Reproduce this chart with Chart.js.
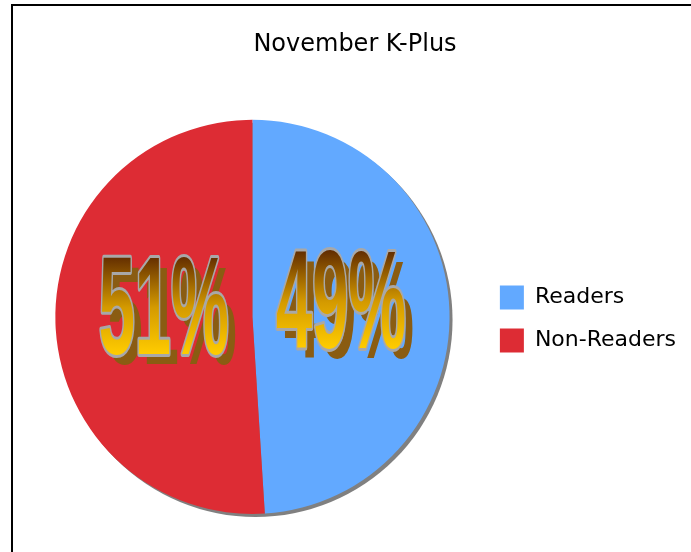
<!DOCTYPE html>
<html>
<head>
<meta charset="utf-8">
<script src="https://cdn.jsdelivr.net/npm/chart.js@4.4.0/dist/chart.umd.min.js"></script>
<style>
html, body { margin: 0; padding: 0; background: #fff; overflow: hidden; }
#wrap { width: 720px; height: 552px; }
</style>
</head>
<body>
<div id="wrap"><canvas id="pie-chart" width="720" height="552"></canvas></div>
<script>
const chartTitle = 'November K-Plus';
const categories = ['Readers', 'Non-Readers'];
const shares = [49, 51];
const sliceColors = ['#62a9ff', '#dd2c34'];
const uiFont = '"Comic Sans MS", "DejaVu Sans", sans-serif';

// white page + the black frame on the left/top edge
const framePlugin = {
    id: 'frame',
    beforeDraw(chart) {
        const ctx = chart.ctx;
        ctx.save();
        ctx.fillStyle = '#fff';
        ctx.fillRect(0, 0, chart.width, chart.height);
        ctx.fillStyle = '#000';
        ctx.fillRect(11, 4, 2, chart.height);
        ctx.fillRect(11, 4, chart.width, 2);
        ctx.restore();
    }
};

// grey drop shadow under the pie
const pieShadow = {
    id: 'pieShadow',
    beforeDatasetsDraw(chart) {
        const arc = chart.getDatasetMeta(0).data[0];
        if (!arc) return;
        const p = arc.getProps(['x', 'y', 'outerRadius'], true);
        const ctx = chart.ctx;
        ctx.save();
        ctx.fillStyle = '#808080';
        ctx.beginPath();
        ctx.arc(p.x + 3, p.y + 3, p.outerRadius, 0, Math.PI * 2);
        ctx.fill();
        ctx.restore();
    }
};

// big gold "word art" percentages
const percentLabels = {
    id: 'percentLabels',
    afterDatasetsDraw(chart) {
        const ctx = chart.ctx;
        const meta = chart.getDatasetMeta(0);
        const size = 140;
        const squeeze = 0.465;
        meta.data.forEach((arc, i) => {
            const p = arc.getProps(['x', 'y', 'startAngle', 'endAngle', 'outerRadius'], true);
            const mid = (p.startAngle + p.endAngle) / 2;
            const dist = p.outerRadius * 0.45;
            const lx = p.x + Math.cos(mid) * dist;
            const ly = p.y + Math.sin(mid) * dist - p.outerRadius * 0.08;
            const text = shares[i] + '%';
            const base = ly + size * 0.716 / 2;

            ctx.save();
            ctx.translate(lx, 0);
            ctx.scale(squeeze, 1);
            ctx.font = 'bold ' + size + 'px "Liberation Sans", Arial, sans-serif';
            ctx.textAlign = 'center';
            ctx.textBaseline = 'alphabetic';

            ctx.fillStyle = '#8a5c12';
            ctx.fillText(text, 8 / squeeze, base + 10);

            const grad = ctx.createLinearGradient(0, base - size * 0.74, 0, base);
            grad.addColorStop(0, '#552000');
            grad.addColorStop(0.55, '#d49a00');
            grad.addColorStop(1, '#ffcc00');
            ctx.lineJoin = 'round';
            ctx.lineWidth = 6;
            ctx.strokeStyle = '#a8a8a8';
            ctx.strokeText(text, 0, base);
            ctx.fillStyle = grad;
            ctx.fillText(text, 0, base);
            ctx.restore();
        });
    }
};

function createPieChart() {
    const ctx = document.getElementById('pie-chart').getContext('2d');
    return new Chart(ctx, {
        type: 'pie',
        data: {
            labels: categories,
            datasets: [{
                data: shares,
                backgroundColor: sliceColors,
                borderWidth: 0
            }]
        },
        options: {
            responsive: false,
            animation: false,
            layout: {
                padding: { left: 24, right: 34, top: 0, bottom: 38 }
            },
            plugins: {
                title: {
                    display: true,
                    text: chartTitle,
                    color: '#000',
                    font: { family: uiFont, size: 24, weight: 'normal' },
                    padding: { top: 30, bottom: 61 }
                },
                legend: {
                    position: 'right',
                    // empty legend title only pushes the items down to the pie's middle
                    title: {
                        display: true,
                        text: '',
                        font: { size: 20 },
                        padding: { top: 100, bottom: 0 }
                    },
                    labels: {
                        boxWidth: 24,
                        boxHeight: 24,
                        padding: 19,
                        color: '#000',
                        font: { family: uiFont, size: 22 }
                    }
                },
                tooltip: { enabled: false }
            }
        },
        plugins: [framePlugin, pieShadow, percentLabels]
    });
}

window.addEventListener('load', () => {
    createPieChart();
});
</script>
</body>
</html>
